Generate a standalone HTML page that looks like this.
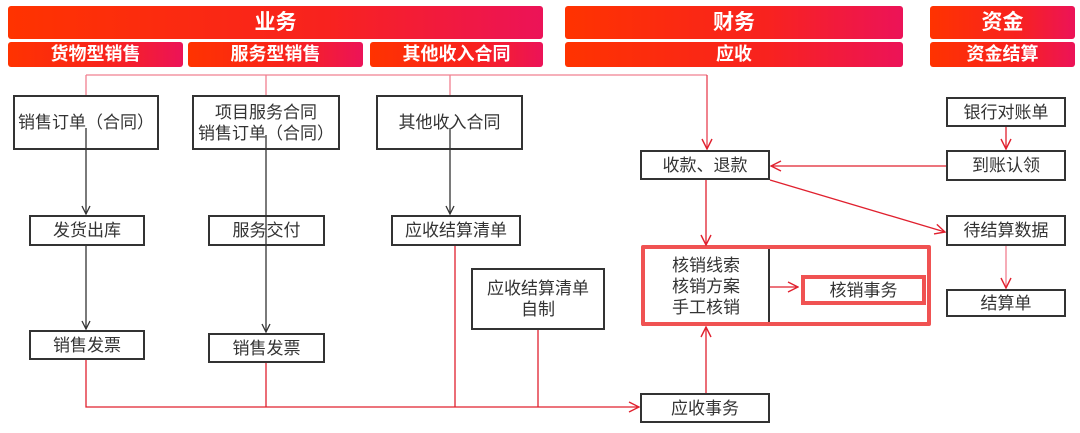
<!DOCTYPE html>
<html><head><meta charset="utf-8"><style>
body{margin:0;width:1080px;height:433px;background:#fff;position:relative;overflow:hidden;font-family:"Liberation Sans","Noto Sans CJK SC",sans-serif}
.bar{position:absolute;background:linear-gradient(90deg,#ff3300,#f8221f 60%,#ec1358);color:#fff;font-weight:bold;text-align:center;border-radius:3px}
.h{top:6px;height:33px;line-height:33px;font-size:21px}
.s{top:42px;height:25px;line-height:25px;font-size:18px}
.b{position:absolute;border:2px solid #333;box-sizing:border-box;display:flex;align-items:center;justify-content:center;text-align:center;font-size:17px;color:#333;line-height:21px;background:#fff}
svg{position:absolute;left:0;top:0}
</style></head><body>
<div class="bar h" style="left:8px;width:535px">业务</div>
<div class="bar s" style="left:8px;width:175px">货物型销售</div>
<div class="bar s" style="left:188px;width:175px">服务型销售</div>
<div class="bar s" style="left:370px;width:173px">其他收入合同</div>
<div class="bar h" style="left:565px;width:338px">财务</div>
<div class="bar s" style="left:565px;width:338px">应收</div>
<div class="bar h" style="left:930px;width:145px">资金</div>
<div class="bar s" style="left:930px;width:145px">资金结算</div>

<div class="b" style="left:13px;top:95px;width:146px;height:55px">销售订单（合同）</div>
<div class="b" style="left:192px;top:95px;width:148px;height:55px">项目服务合同<br>销售订单（合同）</div>
<div class="b" style="left:376px;top:95px;width:147px;height:55px">其他收入合同</div>
<div class="b" style="left:29px;top:215px;width:116px;height:31px">发货出库</div>
<div class="b" style="left:208px;top:215px;width:117px;height:31px">服务交付</div>
<div class="b" style="left:391px;top:215px;width:130px;height:31px">应收结算清单</div>
<div class="b" style="left:471px;top:268px;width:134px;height:62px">应收结算清单<br>自制</div>
<div class="b" style="left:29px;top:330px;width:116px;height:30px">销售发票</div>
<div class="b" style="left:208px;top:333px;width:117px;height:30px">销售发票</div>
<div class="b" style="left:640px;top:150px;width:130px;height:30px">收款、退款</div>
<div class="b" style="left:640px;top:393px;width:130px;height:30px">应收事务</div>
<div class="b" style="left:946px;top:97px;width:120px;height:30px">银行对账单</div>
<div class="b" style="left:946px;top:150px;width:120px;height:31px">到账认领</div>
<div class="b" style="left:946px;top:215px;width:120px;height:31px">待结算数据</div>
<div class="b" style="left:946px;top:289px;width:120px;height:28px">结算单</div>
<div class="b" style="left:642px;top:246px;width:128px;height:80px">核销线索<br>核销方案<br>手工核销</div>
<div style="position:absolute;left:641px;top:245px;width:290px;height:81px;border:4px solid #f05252;box-sizing:border-box;border-radius:2px"></div>
<div class="b" style="left:801px;top:275px;width:125px;height:30px;border:4px solid #f05252">核销事务</div>

<svg width="1080" height="433">
<defs>
<marker id="ak" markerWidth="10" markerHeight="10" refX="9" refY="5" orient="auto" markerUnits="userSpaceOnUse"><path d="M1,1 L9,5 L1,9" fill="none" stroke="#333" stroke-width="1.3"/></marker>
<marker id="ar" markerWidth="12" markerHeight="12" refX="11" refY="6" orient="auto" markerUnits="userSpaceOnUse"><path d="M1,1 L11,6 L1,11" fill="none" stroke="#e0202e" stroke-width="1.4"/></marker>
</defs>
<g stroke="#f08090" stroke-width="1.3" fill="none">
<path d="M86,75 H707"/><path d="M86,75 V95 M266,75 V95 M450,75 V95"/>
</g>
<path d="M707,75 V149" stroke="#e84050" stroke-width="1.3" fill="none" marker-end="url(#ar)"/>
<g stroke="#333" stroke-width="1.3" fill="none" marker-end="url(#ak)">
<path d="M86,128 V214"/><path d="M266,135 V332"/><path d="M450,128 V214"/><path d="M86,246 V329"/>
</g>
<g stroke="#e0202e" stroke-width="1.3" fill="none">
<path d="M86,360 V407 H639" marker-end="url(#ar)"/>
<path d="M266,363 V407"/><path d="M455,246 V407"/><path d="M538,330 V407"/>
<path d="M706,180 V245" marker-end="url(#ar)"/>
<path d="M706,393 V327" marker-end="url(#ar)"/>
<path d="M770,287 H798" marker-end="url(#ar)"/>
<path d="M946,166 H771" marker-end="url(#ar)"/>
<path d="M1006,127 V149" marker-end="url(#ar)"/>
<path d="M770,180 L945,232" marker-end="url(#ar)"/>
</g>
<path d="M1006,246 V288" stroke="#f08090" stroke-width="1.3" fill="none" marker-end="url(#ar)"/>
</svg>
</body></html>
